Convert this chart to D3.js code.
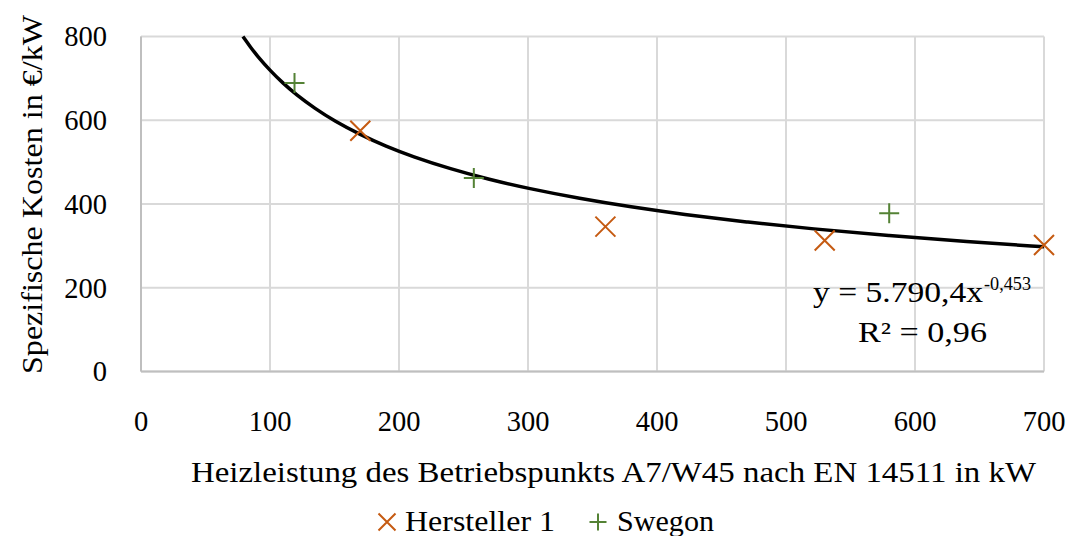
<!DOCTYPE html>
<html><head><meta charset="utf-8">
<script src="https://cdn.jsdelivr.net/npm/d3@7"></script>
<style>
html,body{margin:0;padding:0;background:#fff;}
text{font-family:"Liberation Serif","DejaVu Serif",serif;fill:#000;}
</style></head>
<body><svg id="c" width="1073" height="536"></svg>
<script>
const xTicks = [0,100,200,300,400,500,600,700];
const yTicks = [0,200,400,600,800];
const herstellerX = [170,360,530,700];
const herstellerY = [575,346,313,302];
const swegonX = [119,258,580];
const swegonY = [689,462,378];
const trendA = 5790.4, trendB = -0.453;
const trendXs = [79,85,90,100,110,120,135,150,170,190,210,240,270,300,340,380,420,470,520,580,640,700];
const xTitle = "Heizleistung des Betriebspunkts A7/W45 nach EN 14511 in kW";
const yTitle = "Spezifische Kosten in €/kW";
const seriesNames = ["Hersteller 1","Swegon"];
const colors = ["#c55a11","#548235"];

const svg = d3.select("#c");
const x = d3.scaleLinear().domain([0,700]).range([141,1044]);
const y = d3.scaleLinear().domain([0,800]).range([371.5,36.5]);
const FS = 28.5;

// gridlines
svg.append("g").selectAll("line").data(yTicks).join("line")
  .attr("x1",x(0)).attr("x2",x(700)).attr("y1",d=>y(d)).attr("y2",d=>y(d))
  .attr("stroke","#d9d9d9").attr("stroke-width",2);
svg.append("g").selectAll("line").data(xTicks).join("line")
  .attr("x1",d=>x(d)).attr("x2",d=>x(d)).attr("y1",y(0)).attr("y2",y(800))
  .attr("stroke","#d9d9d9").attr("stroke-width",2);
// axis lines
svg.append("line").attr("x1",x(0)).attr("x2",x(700)).attr("y1",y(0)).attr("y2",y(0)).attr("stroke","#bfbfbf").attr("stroke-width",2);
svg.append("line").attr("x1",x(0)).attr("x2",x(0)).attr("y1",y(0)).attr("y2",y(800)).attr("stroke","#bfbfbf").attr("stroke-width",2);

// tick labels
svg.append("g").selectAll("text").data(yTicks).join("text")
  .attr("x",107).attr("y",d=>y(d)).attr("dy","0.35em").attr("text-anchor","end")
  .attr("font-size",FS).text(d=>d);
svg.append("g").selectAll("text").data(xTicks).join("text")
  .attr("x",d=>x(d)).attr("y",431).attr("text-anchor","middle")
  .attr("font-size",FS).text(d=>d);

// titles
svg.append("text").attr("x",191).attr("y",482).attr("font-size",FS)
  .attr("textLength",845).attr("lengthAdjust","spacingAndGlyphs").text(xTitle);
svg.append("text").attr("transform","translate(42,374) rotate(-90)").attr("font-size",FS)
  .attr("textLength",359).attr("lengthAdjust","spacingAndGlyphs").text(yTitle);

// trend line
const line = d3.line().x(d=>x(d)).y(d=>y(trendA*Math.pow(d,trendB))).curve(d3.curveBasis);
svg.append("path").datum(trendXs).attr("d",line).attr("fill","none").attr("stroke","#000").attr("stroke-width",3.5);

// markers
const s = 10;
const crossPath = `M${-s},${-s}L${s},${s}M${-s},${s}L${s},${-s}`;
const plusPath = `M${-s},0L${s},0M0,${-s}L0,${s}`;
svg.append("g").selectAll("path").data(herstellerX.map((v,i)=>[v,herstellerY[i]])).join("path")
  .attr("transform",d=>`translate(${x(d[0])},${y(d[1])})`).attr("d",crossPath)
  .attr("stroke",colors[0]).attr("stroke-width",2).attr("fill","none");
svg.append("g").selectAll("path").data(swegonX.map((v,i)=>[v,swegonY[i]])).join("path")
  .attr("transform",d=>`translate(${x(d[0])},${y(d[1])})`).attr("d",plusPath)
  .attr("stroke",colors[1]).attr("stroke-width",2).attr("fill","none");

// equation
svg.append("text").attr("x",813).attr("y",302).attr("font-size",FS)
  .attr("textLength",170).attr("lengthAdjust","spacingAndGlyphs").text("y = 5.790,4x");
svg.append("text").attr("x",984).attr("y",290).attr("font-size",18.5)
  .attr("textLength",47).attr("lengthAdjust","spacingAndGlyphs").text("-0,453");
svg.append("text").attr("x",858).attr("y",342).attr("font-size",FS)
  .attr("textLength",129).attr("lengthAdjust","spacingAndGlyphs").text("R² = 0,96");

// legend
const lg = svg.append("g");
const sl = 8.5;
lg.append("path").attr("transform","translate(387,522)").attr("d",`M${-sl},${-sl}L${sl},${sl}M${-sl},${sl}L${sl},${-sl}`).attr("stroke",colors[0]).attr("stroke-width",2);
lg.append("text").attr("x",405).attr("y",531).attr("font-size",FS)
  .attr("textLength",150).attr("lengthAdjust","spacingAndGlyphs").text(seriesNames[0]);
lg.append("path").attr("transform","translate(598,522)").attr("d",`M${-sl},0L${sl},0M0,${-sl}L0,${sl}`).attr("stroke",colors[1]).attr("stroke-width",2);
lg.append("text").attr("x",617).attr("y",531).attr("font-size",FS)
  .attr("textLength",97).attr("lengthAdjust","spacingAndGlyphs").text(seriesNames[1]);
</script></body></html>
